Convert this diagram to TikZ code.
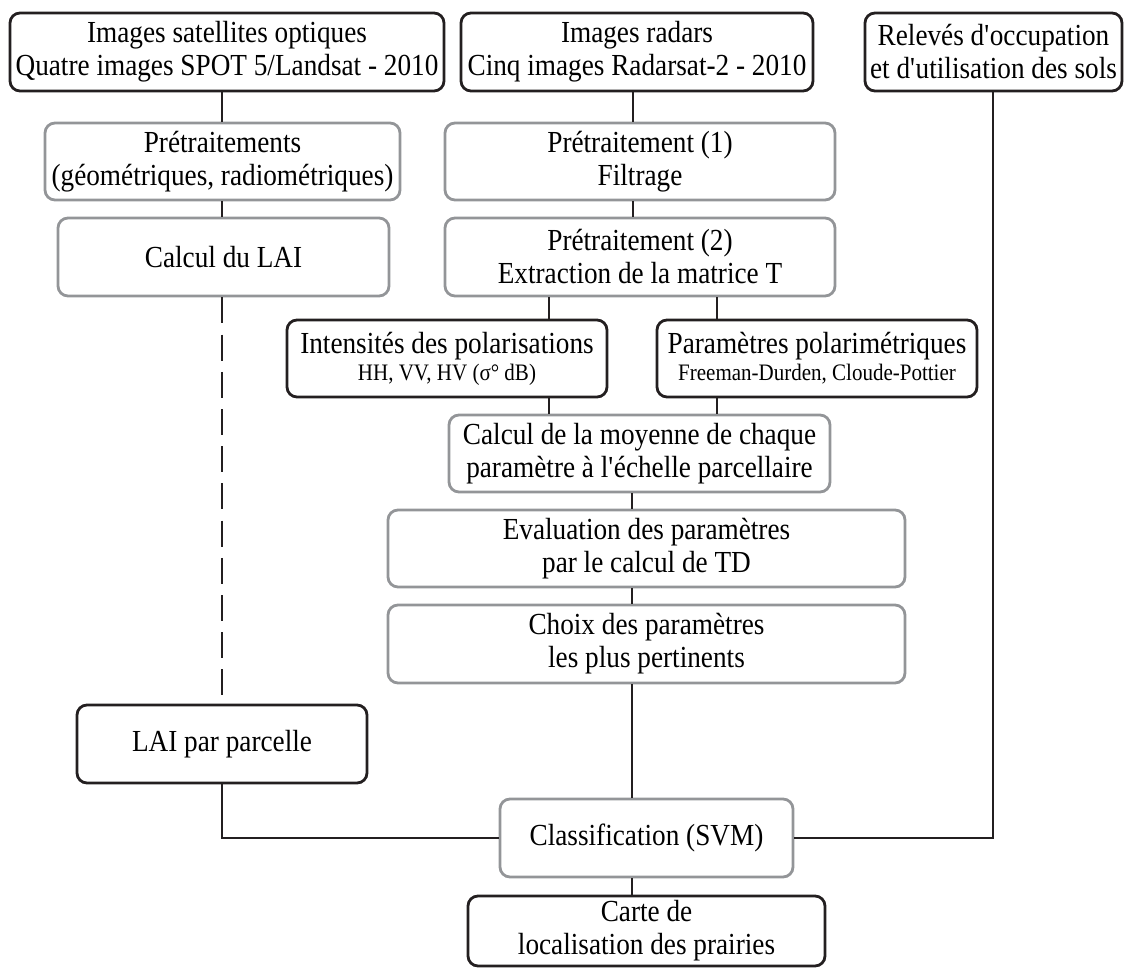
\documentclass[tikz,border=0pt]{standalone}
\usepackage{fontspec}
\setmainfont{Liberation Serif}[FakeStretch=0.89]
\definecolor{inkblack}{HTML}{231F20}
\definecolor{boxgray}{HTML}{939598}
\newcommand\bigf{\fontsize{30.6}{33}\selectfont}
\newcommand\smallf{\fontsize{23.6}{26}\selectfont}
\newcommand\apo{\textquotesingle}
\begin{document}
\begin{tikzpicture}[x=1pt,y=-1pt,
  base/.style={rounded corners=10pt, line width=2.8pt, inner sep=0pt, align=center, font=\bigf, text=black},
  blk/.style={base, draw=inkblack},
  gry/.style={base, draw=boxgray},
  link/.style={draw=inkblack, line width=2.8pt},
  dlink/.style={link, dash pattern=on 26pt off 11.2pt}]
\useasboundingbox (0,0) rectangle (1124,969);
% row 1
\node[blk, minimum width=434pt, minimum height=78pt] (opt) at (227,52) {Images satellites optiques\\Quatre images SPOT 5/Landsat - 2010};
\node[blk, minimum width=352pt, minimum height=78pt] (rad) at (637,52) {Images radars\\Cinq images Radarsat-2 - 2010};
\node[blk, minimum width=257pt, minimum height=78pt] (rel) at (993.5,52) {Relevés d\apo occupation\\et d\apo utilisation des sols};
% row 2
\node[gry, minimum width=355pt, minimum height=77pt] (pre) at (222.5,161.5) {Prétraitements\\(géométriques, radiométriques)};
\node[gry, minimum width=390pt, minimum height=77pt] (pre1) at (640,161.5) {Prétraitement (1)\\Filtrage};
% row 3
\node[gry, minimum width=331pt, minimum height=78pt] (lai) at (223.5,257) {Calcul du LAI};
\node[gry, minimum width=390pt, minimum height=78pt] (pre2) at (640,257) {Prétraitement (2)\\Extraction de la matrice T};
% row 4
\node[blk, minimum width=320pt, minimum height=77pt] (int) at (447,358.5) {Intensités des polarisations\\[-6pt]{\smallf HH, VV, HV (σ° dB)}};
\node[blk, minimum width=320pt, minimum height=77pt] (par) at (817,358.5) {Paramètres polarimétriques\\[-6pt]{\smallf Freeman-Durden, Cloude-Pottier}};
% central column
\node[gry, minimum width=381pt, minimum height=77pt] (moy) at (639.5,453.5) {Calcul de la moyenne de chaque\\paramètre à l\apo échelle parcellaire};
\node[gry, minimum width=517pt, minimum height=77pt] (eva) at (646.5,548.5) {Evaluation des paramètres\\par le calcul de TD};
\node[gry, minimum width=517pt, minimum height=78pt] (cho) at (646.5,644) {Choix des paramètres\\les plus pertinents};
\node[blk, minimum width=290pt, minimum height=78pt] (laip) at (222,744) {LAI par parcelle};
\node[gry, minimum width=293pt, minimum height=78pt] (cls) at (646.5,838) {Classification (SVM)};
\node[blk, minimum width=357pt, minimum height=70pt] (carte) at (646.5,931) {Carte de\\localisation des prairies};
% x positions of connectors
\coordinate (xo) at (222,0);
\coordinate (xr) at (633,0);
\coordinate (xi) at (549,0);
\coordinate (xp) at (717,0);
\coordinate (xc) at (632,0);
\coordinate (xs) at (993,0);
% connectors
\draw[link] (opt.south -| xo) -- (pre.north -| xo);
\draw[link] (pre.south -| xo) -- (lai.north -| xo);
\draw[dlink] (lai.south -| xo) -- (laip.north -| xo);
\draw[link] (laip.south -| xo) |- (cls.west);
\draw[link] (rad.south -| xr) -- (pre1.north -| xr);
\draw[link] (pre1.south -| xr) -- (pre2.north -| xr);
\draw[link] (pre2.south -| xi) -- (int.north -| xi);
\draw[link] (pre2.south -| xp) -- (par.north -| xp);
\draw[link] (int.south -| xi) -- (moy.north -| xi);
\draw[link] (par.south -| xp) -- (moy.north -| xp);
\draw[link] (moy.south -| xc) -- (eva.north -| xc);
\draw[link] (eva.south -| xc) -- (cho.north -| xc);
\draw[link] (cho.south -| xc) -- (cls.north -| xc);
\draw[link] (cls.south -| xc) -- (carte.north -| xc);
\draw[link] (rel.south -| xs) |- (cls.east);
\end{tikzpicture}
\end{document}
